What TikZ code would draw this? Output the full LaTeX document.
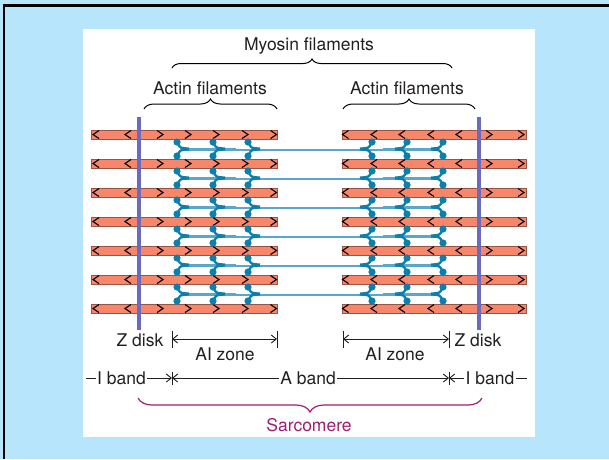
\documentclass[tikz,border=0pt]{standalone}
\usepackage{fontspec}
\setmainfont{TeX Gyre Heros}
\usetikzlibrary{arrows.meta,decorations.pathreplacing}

\begin{document}
\begin{tikzpicture}[x=1pt, y=-1pt,
    actin/.style={fill=actinfill, draw=actinedge, line width=0.7pt},
    chev/.style={draw=black, line width=1.1pt},
    zline/.style={draw=zdisk, line width=4pt},
    shaft/.style={draw=shaftblue, line width=3pt},
    lbl/.style={font=\fontsize{17.5}{20}\selectfont, text=labelgray, inner sep=1pt},
    dim/.style={draw=labelgray, line width=0.9pt},
    dimarrow/.style={dim, -{Straight Barb[length=5pt,width=8pt]}},
    brc/.style={decorate, decoration={brace, amplitude=#1}, line width=1pt}
  ]

  % --- Farben ---
  \definecolor{bgblue}{HTML}{B7E6FC}
  \definecolor{actinfill}{HTML}{F7866B}
  \definecolor{actinedge}{HTML}{9A5444}
  \definecolor{zdisk}{HTML}{6A6BBF}
  \definecolor{shaftblue}{HTML}{5AA7CC}
  \definecolor{headblue}{HTML}{0B80AE}
  \definecolor{labelgray}{HTML}{231F20}
  \definecolor{sarco}{HTML}{A01E73}

  % --- Hilfsmakro: \myohead{x}{y}{Richtung}, Richtung 1 = Schwanz nach rechts ---
  \newcommand{\myohead}[3]{%
    \foreach \s in {-1,1}{%
      \fill[headblue] ({#1},{#2+\s*7}) circle[radius=3.6pt];
      \draw[headblue, line width=2.3pt]
        ({#1+#3*1},{#2+\s*5}) .. controls ({#1+#3*3.5},{#2+\s*0.8}) .. ({#1+#3*12},{#2+\s*0.5});
    }%
  }

  % --- Hintergrund ---
  \fill[bgblue] (0,0) rectangle (609,459);
  \useasboundingbox (0,0) rectangle (609,459);
  \draw[black, line width=2.4pt] (4.2,459) -- (4.2,5.5) -- (609,5.5);
  \fill[white] (83,29) rectangle (535,437);

  % --- Aktinfilamente (7 Reihen) ---
  \foreach \k in {0,...,6}{
    \pgfmathsetmacro{\y}{134.5+29*\k}
    \filldraw[actin] (91,\y-4.5) rectangle (277,\y+4.5);
    \filldraw[actin] (342,\y-4.5) rectangle (526,\y+4.5);
    % links
    \foreach \c in {96,128}
      \draw[chev] (\c+3,\y-4) -- (\c-3,\y) -- (\c+3,\y+4);
    \foreach \c in {160,188,216,245,273.5}
      \draw[chev] (\c-3,\y-4) -- (\c+3,\y) -- (\c-3,\y+4);
    % rechts
    \foreach \c in {345.5,374,402,431,459}
      \draw[chev] (\c+3,\y-4) -- (\c-3,\y) -- (\c+3,\y+4);
    \foreach \c in {489,521}
      \draw[chev] (\c-3,\y-4) -- (\c+3,\y) -- (\c-3,\y+4);
  }

  % --- Myosinfilamente (6 Reihen) ---
  \foreach \k in {0,...,5}{
    \pgfmathsetmacro{\m}{149+29*\k}
    \draw[shaft] (183,\m) -- (437,\m);
    \draw[white, line width=1pt] (236,\m-0.3) -- (383,\m-0.3);
    \foreach \h in {177,213,248} \myohead{\h}{\m}{1};
    \foreach \h in {443,407,372} \myohead{\h}{\m}{-1};
  }

  % --- Z-Scheiben ---
  \draw[zline] (139,117) -- (139,330);
  \draw[zline] (479,117) -- (479,330);

  % --- Klammern oben ---
  \node[lbl] (myosin) at (309,46) {Myosin filaments};
  \draw[brc=9pt] (172,68) -- (452,68);
  \node[lbl] (actinL) at (210,88) {Actin filaments};
  \draw[brc=10pt] (144,109) -- (277,109);
  \node[lbl] (actinR) at (407,88) {Actin filaments};
  \draw[brc=10pt] (343,109) -- (475,109);

  % --- Z disk / AI zone ---
  \node[lbl] (zdiskL) at (140,340) {Z disk};
  \node[lbl] (zdiskR) at (478,340) {Z disk};
  \coordinate (aiLa) at (172,339);
  \coordinate (aiLb) at (277,339);
  \coordinate (aiRa) at (343,339);
  \coordinate (aiRb) at (449,339);
  \foreach \p in {aiLa,aiLb,aiRa,aiRb}
    \draw[dim] ([yshift=8.5pt]\p) -- ([yshift=-8.5pt]\p);
  \draw[dim, {Straight Barb[length=5pt,width=8pt]}-{Straight Barb[length=5pt,width=8pt]}] (aiLa) -- (aiLb);
  \draw[dim, {Straight Barb[length=5pt,width=8pt]}-{Straight Barb[length=5pt,width=8pt]}] (aiRa) -- (aiRb);
  \node[lbl] (aizoneL) at (225,354) {AI zone};
  \node[lbl] (aizoneR) at (395,354) {AI zone};

  % --- I band / A band ---
  \coordinate (edgeL) at (86,378);
  \coordinate (bandL) at (172,378);
  \coordinate (bandR) at (449,378);
  \coordinate (edgeR) at (527,378);
  \foreach \p in {bandL,bandR}
    \draw[dim] ([yshift=6.5pt]\p) -- ([yshift=-6.5pt]\p);
  \node[lbl] (ibandL) at (121.5,378) {I band};
  \node[lbl] (aband) at (308,378) {A band};
  \node[lbl] (ibandR) at (490,378) {I band};
  \draw[dim] (edgeL) -- (ibandL.west);
  \draw[dimarrow] (ibandL.east) -- (bandL);
  \draw[dimarrow] (aband.west) -- (bandL);
  \draw[dimarrow] (aband.east) -- (bandR);
  \draw[dimarrow] (ibandR.west) -- (bandR);
  \draw[dim] (ibandR.east) -- (edgeR);

  % --- Sarkomer ---
  \draw[brc=14pt, sarco, line width=1.2pt] (482,398) -- (138,398);
  \node[lbl, text=sarco] (sarcomere) at (309,425) {Sarcomere};

\end{tikzpicture}
\end{document}
